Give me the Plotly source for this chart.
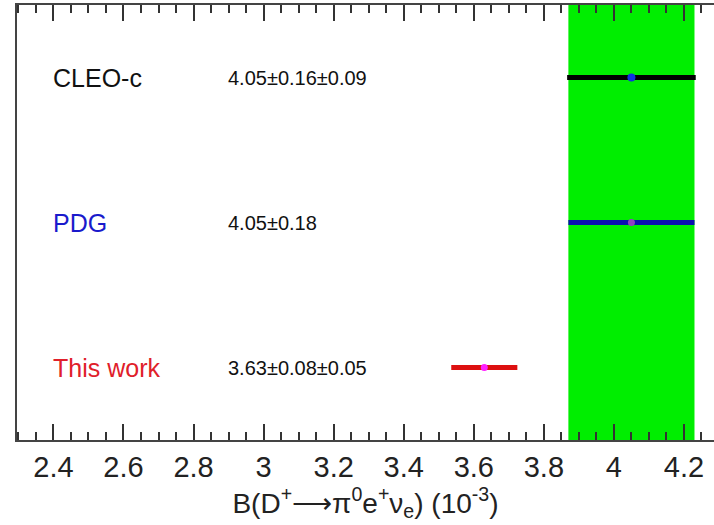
import plotly.graph_objects as go

# ---- data ----
labels = ["CLEO-c", "PDG", "This work"]
value_text = ["4.05\u00b10.16\u00b10.09", "4.05\u00b10.18", "3.63\u00b10.08\u00b10.05"]
central = [4.05, 4.05, 3.63]
stat_err = [0.16, 0.18, 0.08]
syst_err = [0.09, 0.0, 0.05]
ypos = [2.5, 1.5, 0.5]
label_colors = ["#111111", "#1a1acc", "#e0202a"]
bar_colors = ["#000000", "#0a10b0", "#dd1010"]
point_colors = ["#1030e0", "#9040c0", "#ff20ff"]
band_center = 4.05
band_err = 0.18

tot_err = [(s ** 2 + y ** 2) ** 0.5 for s, y in zip(stat_err, syst_err)]

fig = go.Figure()

# PDG band
fig.add_shape(type="rect", xref="x", yref="paper",
              x0=band_center - band_err, x1=band_center + band_err,
              y0=0, y1=1, fillcolor="#00ee00", line=dict(width=0), layer="below")

for i in range(len(labels)):
    fig.add_trace(go.Scatter(
        x=[central[i]], y=[ypos[i]], mode="markers",
        marker=dict(color=point_colors[i], size=8 if i == 0 else 7),
        error_x=dict(type="data", array=[tot_err[i]], color=bar_colors[i],
                     thickness=5, width=0),
        showlegend=False, hoverinfo="skip"))

ax_left_px = 17
plot_w = 714 - ax_left_px
for i in range(len(labels)):
    fig.add_annotation(x=(51 - ax_left_px) / plot_w, y=ypos[i], xref="paper", yref="y",
                       text=labels[i], showarrow=False, xanchor="left", yanchor="middle",
                       font=dict(size=25, color=label_colors[i], family="Liberation Sans, Arial"))
    fig.add_annotation(x=(226 - ax_left_px) / plot_w, y=ypos[i], xref="paper", yref="y",
                       text=value_text[i], showarrow=False, xanchor="left", yanchor="middle",
                       font=dict(size=20, color="#111111", family="Liberation Sans, Arial"))

fig.update_layout(
    width=714, height=525,
    margin=dict(l=ax_left_px, r=0, t=5, b=85),
    plot_bgcolor="white", paper_bgcolor="white",
    font=dict(family="Liberation Sans, Arial", color="#222222"),
    xaxis=dict(range=[2.296, 4.2857], tick0=2.4, dtick=0.2,
               ticks="inside", ticklen=16, tickwidth=1.5, tickcolor="#333333",
               minor=dict(dtick=0.05, ticks="inside", ticklen=8, tickwidth=1.5, tickcolor="#333333"),
               showline=True, linewidth=2, linecolor="#444444", mirror="allticks",
               showgrid=False, zeroline=False,
               tickfont=dict(size=29, color="#222222"),
               title=dict(text="B(D<sup>+</sup>\u27f6\u03c0<sup>0</sup>e<sup>+</sup>\u03bd<sub>e</sub>) (10<sup>-3</sup>)",
                          font=dict(size=28, color="#222222"), standoff=4)),
    yaxis=dict(range=[0, 3], showticklabels=False, ticks="", showgrid=False,
               zeroline=False, showline=True, linewidth=2, linecolor="#444444"),
)

fig.write_html("out.html")
